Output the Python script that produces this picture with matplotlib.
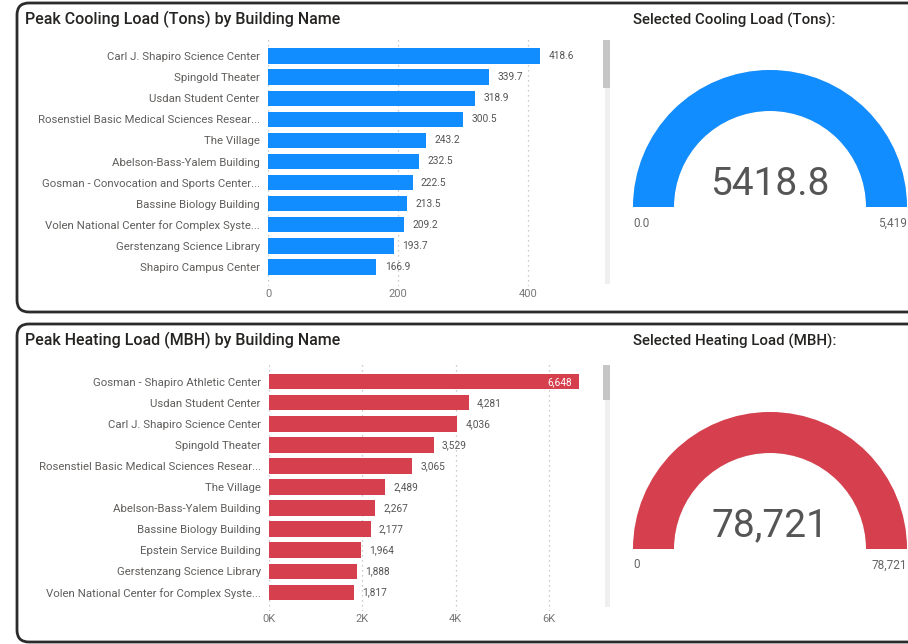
import matplotlib.pyplot as plt
from matplotlib.patches import FancyBboxPatch, Wedge, Rectangle

plt.rcParams['font.family'] = ['Roboto', 'DejaVu Sans']

# Données
cooling_names = ["Carl J. Shapiro Science Center", "Spingold Theater", "Usdan Student Center",
                 "Rosenstiel Basic Medical Sciences Resear...", "The Village",
                 "Abelson-Bass-Yalem Building", "Gosman - Convocation and Sports Center...",
                 "Bassine Biology Building", "Volen National Center for Complex Syste...",
                 "Gerstenzang Science Library", "Shapiro Campus Center"]
cooling_values = [418.6, 339.7, 318.9, 300.5, 243.2, 232.5, 222.5, 213.5, 209.2, 193.7, 166.9]
cooling_ticks = [0, 200, 400]
cooling_tick_labels = ["0", "200", "400"]
cooling_gauge = 5418.8
cooling_gauge_max = 5418.8
cooling_gauge_labels = ("0.0", "5,419", "5418.8")

heating_names = ["Gosman - Shapiro Athletic Center", "Usdan Student Center",
                 "Carl J. Shapiro Science Center", "Spingold Theater",
                 "Rosenstiel Basic Medical Sciences Resear...", "The Village",
                 "Abelson-Bass-Yalem Building", "Bassine Biology Building",
                 "Epstein Service Building", "Gerstenzang Science Library",
                 "Volen National Center for Complex Syste..."]
heating_values = [6648, 4281, 4036, 3529, 3065, 2489, 2267, 2177, 1964, 1888, 1817]
heating_ticks = [0, 2000, 4000, 6000]
heating_tick_labels = ["0K", "2K", "4K", "6K"]
heating_gauge = 78721
heating_gauge_max = 78721
heating_gauge_labels = ("0", "78,721", "78,721")

BLUE = '#118DFF'
RED = '#D6404E'
TITLE = '#252423'
LABEL = '#605E5C'

W, H = 908, 644
fig = plt.figure(figsize=(W / 100, H / 100), dpi=100)

# fond en pixels (y vers le bas)
bg = fig.add_axes([0, 0, 1, 1])
bg.set_xlim(0, W)
bg.set_ylim(H, 0)
bg.axis('off')


def pix_axes(x0, y0, x1, y1):
    return fig.add_axes([x0 / W, 1 - y1 / H, (x1 - x0) / W, (y1 - y0) / H])


def panneau(y0, y1, titre, titre_gauge):
    box = FancyBboxPatch((17, y0), 940, y1 - y0, boxstyle="round,pad=0,rounding_size=12",
                         fc='white', ec='#2b2b2b', lw=2)
    bg.add_patch(box)
    bg.text(25, y0 + 16, titre, fontsize=11.5, color=TITLE, va='center', ha='left',
            fontweight='medium')
    bg.text(633, y0 + 17, titre_gauge, fontsize=10.8, color=TITLE, va='center', ha='left',
            fontweight='medium')


def scrollbar(y0, y1, t1):
    bg.add_patch(Rectangle((605, y0), 5, y1 - y0, fc='#EFEFEF', ec='none'))
    bg.add_patch(Rectangle((603, y0), 7, t1 - y0, fc='#C6C6C6', ec='none'))


def barres(ax, noms, vals, couleur, ticks, tick_labels, xmax, fmt, inside_first=False):
    y = list(range(len(noms)))
    ax.barh(y, vals, height=0.72, color=couleur)
    ax.set_ylim(len(noms) - 0.1, -0.9)
    ax.set_xlim(0, xmax)
    ax.set_yticks(y)
    ax.set_yticklabels(noms, fontsize=8.2, color=LABEL)
    ax.set_xticks(ticks)
    ax.set_xticklabels(tick_labels, fontsize=8, color='#777777')
    ax.tick_params(length=0, pad=2)
    ax.tick_params(axis='y', pad=6)
    for s in ax.spines.values():
        s.set_visible(False)
    ax.grid(axis='x', linestyle=(0, (1, 3)), color='#BBBBBB', lw=0.9)
    ax.set_axisbelow(True)
    for i, v in enumerate(vals):
        if inside_first and i == 0:
            ax.annotate(fmt(v), (v, i), xytext=(-5, 0), textcoords='offset points',
                        ha='right', va='center', fontsize=7.3, color='white')
        else:
            ax.annotate(fmt(v), (v, i), xytext=(6, 0), textcoords='offset points',
                        ha='left', va='center', fontsize=7.3, color='#555555')


def gauge(cx, cy, valeur, vmax, couleur, labels):
    bg.add_patch(Wedge((cx, cy), 137, 180, 360, width=41, fc='#E6E6E6', ec='none'))
    fin = 180 + 180 * valeur / vmax
    bg.add_patch(Wedge((cx, cy), 137, 180, fin, width=41, fc=couleur, ec='none'))
    bg.text(cx, cy - 23, labels[2], fontsize=28, color='#555555', ha='center', va='center')
    bg.text(633, cy + 16, labels[0], fontsize=8.5, color='#666666', ha='left', va='center')
    bg.text(907, cy + 16, labels[1], fontsize=8.5, color='#666666', ha='right', va='center')


# Panneau refroidissement
panneau(3, 312, "Peak Cooling Load (Tons) by Building Name", "Selected Cooling Load (Tons):")
scrollbar(40, 284, 88)
ax1 = pix_axes(268, 37, 268 + 0.65 * 450, 286)
barres(ax1, cooling_names, cooling_values, BLUE, cooling_ticks, cooling_tick_labels, 450,
       lambda v: f"{v:.1f}")
gauge(770, 207, cooling_gauge, cooling_gauge_max, BLUE, cooling_gauge_labels)

# Panneau chauffage
panneau(324, 642, "Peak Heating Load (MBH) by Building Name", "Selected Heating Load (MBH):")
scrollbar(365, 607, 400)
ax2 = pix_axes(269, 363, 269 + 0.04665 * 6900, 611)
barres(ax2, heating_names, heating_values, RED, heating_ticks, heating_tick_labels, 6900,
       lambda v: f"{v:,.0f}", inside_first=True)
gauge(770, 549, heating_gauge, heating_gauge_max, RED, heating_gauge_labels)

fig.savefig("out.png", dpi=100)
